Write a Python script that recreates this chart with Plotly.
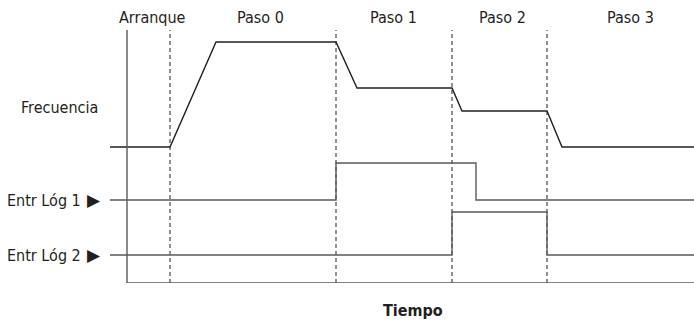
import plotly.graph_objects as go

# time axis (arbitrary units, 0 = start of the time axis)
step_times = [43, 209, 325, 420]
step_names = ["Arranque", "Paso 0", "Paso 1", "Paso 2", "Paso 3"]
step_label_x = [25, 133, 266, 375, 503]

freq_t = [-17, 43, 89, 209, 230, 325, 335, 420, 435, 567]
freq_v = [136, 136, 241, 241, 195, 195, 172, 172, 136, 136]

in1_t = [-17, 209, 209, 349, 349, 567]
in1_v = [83, 83, 120, 120, 83, 83]

in2_t = [-17, 325, 325, 420, 420, 567]
in2_v = [28, 28, 71, 71, 28, 28]

row_labels = ["Frecuencia", "Entr Lóg 1", "Entr Lóg 2"]
row_label_y = [176, 83, 28]
row_marker = [False, True, True]

X_RANGE = [-17, 567]
Y_RANGE = [0, 253]

FONT = "Liberation Sans Narrow, DejaVu Sans Condensed, Arial Narrow, sans-serif"
INK = "#231f20"
GREY = "#5a5a5a"


def px(x):
    return (x - X_RANGE[0]) / (X_RANGE[1] - X_RANGE[0])


def py(y):
    return (y - Y_RANGE[0]) / (Y_RANGE[1] - Y_RANGE[0])


fig = go.Figure()
fig.add_trace(go.Scatter(x=freq_t, y=freq_v, mode="lines",
                         line=dict(color=INK, width=1.4), hoverinfo="skip"))
fig.add_trace(go.Scatter(x=in1_t, y=in1_v, mode="lines",
                         line=dict(color=GREY, width=1.4), hoverinfo="skip"))
fig.add_trace(go.Scatter(x=in2_t, y=in2_v, mode="lines",
                         line=dict(color=GREY, width=1.4), hoverinfo="skip"))

# dashed step boundaries
for t in step_times:
    fig.add_shape(type="line", x0=t, x1=t, y0=0, y1=253,
                  line=dict(color=INK, width=1, dash="4px,3px"), layer="below")

# axes
fig.add_shape(type="line", x0=0, x1=0, y0=0, y1=253, line=dict(color=GREY, width=1.4))
fig.add_shape(type="line", x0=0, x1=567, y0=0, y1=0, line=dict(color=GREY, width=1.6))

for name, x in zip(step_names, step_label_x):
    fig.add_annotation(x=px(x), y=py(266), xref="paper", yref="paper",
                       text=name, showarrow=False,
                       font=dict(size=16, color=INK, family=FONT),
                       xanchor="center", yanchor="middle")

for lab, y, mk in zip(row_labels, row_label_y, row_marker):
    if mk:
        # label text, then a triangle pointing at the line
        fig.add_annotation(x=px(-24), y=py(y), xref="paper", yref="paper",
                           text="▶", showarrow=False,
                           font=dict(size=17, color=INK, family="DejaVu Sans"),
                           xanchor="right", yanchor="middle")
        fig.add_annotation(x=px(-44), y=py(y), xref="paper", yref="paper",
                           text=lab, showarrow=False,
                           font=dict(size=16, color=INK, family=FONT),
                           xanchor="right", yanchor="middle")
    else:
        fig.add_annotation(x=px(-27), y=py(y), xref="paper", yref="paper",
                           text=lab, showarrow=False,
                           font=dict(size=16, color=INK, family=FONT),
                           xanchor="right", yanchor="middle")

fig.add_annotation(x=px(286), y=py(-27), xref="paper", yref="paper",
                   text="<b>Tiempo</b>", showarrow=False,
                   font=dict(size=16, color=INK, family=FONT),
                   xanchor="center", yanchor="middle")

fig.update_layout(
    width=694, height=324,
    margin=dict(l=110, r=0, t=30, b=41),
    paper_bgcolor="white", plot_bgcolor="white",
    showlegend=False,
    xaxis=dict(range=X_RANGE, visible=False, fixedrange=True),
    yaxis=dict(range=Y_RANGE, visible=False, fixedrange=True),
)

fig.write_html("out.html", config={"displayModeBar": False},
               post_script="document.body.style.margin='0';")
